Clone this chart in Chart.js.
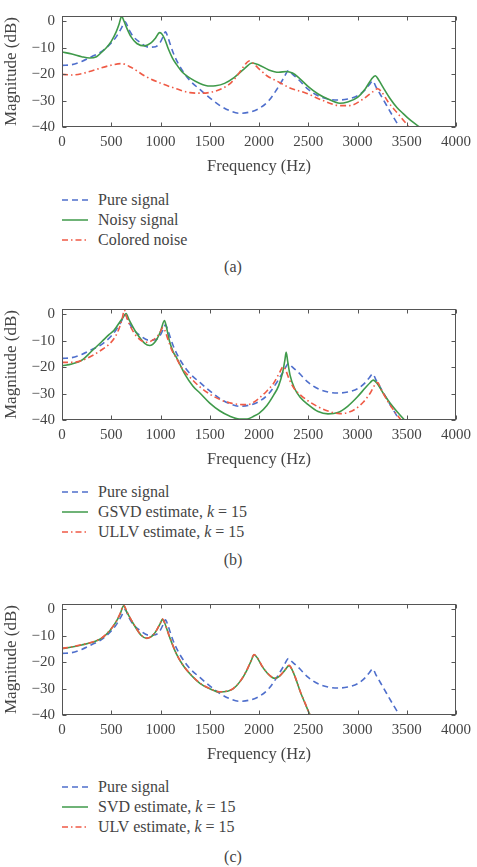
<!DOCTYPE html>
<html>
<head>
<meta charset="utf-8">
<script src="https://cdn.jsdelivr.net/npm/chart.js@4.4.0/dist/chart.umd.min.js"></script>
<style>
  body { margin: 0; background: #fff; width: 477px; height: 867px; position: relative; overflow: hidden;
         font-family: "Liberation Serif", serif; color: #444; }
  .panel { position: absolute; left: 0; }
  .legend { position: absolute; left: 62px; font-size: 16px; }
  .legend div { display: flex; align-items: center; height: 20px; white-space: nowrap; }
  .legend svg { margin-right: 10px; }
  .cap { position: absolute; left: 0; width: 466px; text-align: center; font-size: 16px; line-height: 18px; }
</style>
</head>
<body>
<div class="panel" style="top:0"><canvas id="chartA" width="477" height="177"></canvas></div>
<div class="legend" id="legendA" style="top:190px"></div>
<div class="cap" style="top:258px">(a)</div>

<div class="panel" style="top:293px"><canvas id="chartB" width="477" height="177"></canvas></div>
<div class="legend" id="legendB" style="top:482px"></div>
<div class="cap" style="top:551px">(b)</div>

<div class="panel" style="top:588px"><canvas id="chartC" width="477" height="177"></canvas></div>
<div class="legend" id="legendC" style="top:777px"></div>
<div class="cap" style="top:848px">(c)</div>

<script>
// tick labels
const xTicks = [0, 500, 1000, 1500, 2000, 2500, 3000, 3500, 4000];
const yTicks = [-40, -30, -20, -10, 0];

// pure signal (same curve in all three panels)
const pureFreq = [0, 100, 200, 300, 400, 500, 550, 600, 640, 680, 720, 800, 880, 950, 1000, 1030, 1050, 1075, 1100, 1130,
  1180, 1250, 1300, 1400, 1500, 1600, 1700, 1800, 1900, 2000, 2100, 2180, 2250, 2300, 2340, 2400, 2500, 2600, 2700, 2800,
  2900, 3000, 3080, 3120, 3155, 3190, 3260, 3360, 3430, 3480];
const pureMag = [-16.7, -16.4, -15.2, -13.4, -11.5, -8.2, -5.9, -2.8, -0.2, -3.2, -5.6, -8.2, -9.8, -9.6, -7.8, -5.5, -4.0, -6.0, -8.8, -12.0,
  -16.0, -20.2, -22.5, -25.8, -29.0, -31.8, -33.8, -34.8, -34.4, -33.0, -30.0, -25.8, -21.5, -18.6, -20.0, -22.0, -25.8, -28.2, -29.4, -29.8,
  -29.4, -28.2, -25.8, -24.0, -22.6, -25.0, -29.5, -36.0, -40.2, -43.0];

// (a) noisy signal
const noisyFreq = [0, 100, 200, 280, 350, 400, 450, 500, 550, 580, 605, 630, 660, 700, 760, 840, 900, 950, 990, 1010,
  1040, 1080, 1120, 1160, 1220, 1300, 1400, 1500, 1560, 1650, 1750, 1850, 1930, 2000, 2100, 2200, 2280, 2340, 2400, 2500,
  2600, 2700, 2820, 2900, 3000, 3080, 3140, 3180, 3220, 3260, 3330, 3400, 3460, 3540, 3630, 3700];
const noisyMag = [-11.6, -12.4, -13.4, -13.9, -13.4, -11.8, -10.0, -7.6, -4.0, -1.0, 1.9, 0.0, -2.8, -5.8, -8.4, -9.3, -8.3, -6.3, -4.3, -4.6,
  -6.5, -10.5, -13.8, -16.2, -19.2, -21.5, -23.5, -24.5, -24.4, -23.5, -21.2, -18.0, -15.8, -16.5, -18.4, -19.3, -19.0, -19.6, -21.2, -24.7,
  -27.5, -29.4, -31.0, -30.5, -28.8, -25.5, -22.0, -20.6, -22.5, -25.0, -29.2, -32.6, -34.8, -37.5, -40.0, -42.0];

// (a) colored noise
const colFreq = [0, 100, 200, 300, 400, 500, 600, 700, 850, 1000, 1150, 1300, 1420, 1550, 1620, 1700, 1780, 1850, 1900, 1950,
  2000, 2080, 2180, 2320, 2480, 2650, 2820, 2920, 3050, 3150, 3205, 3240, 3320, 3400, 3500, 3540];
const colMag = [-20.1, -20.3, -19.8, -18.8, -17.6, -16.6, -16.0, -17.4, -20.9, -23.4, -25.4, -27.0, -27.2, -26.5, -25.5, -23.8, -20.5, -16.8, -15.0, -16.2,
  -18.0, -20.6, -22.6, -25.3, -27.2, -30.0, -31.9, -31.9, -29.6, -26.8, -25.5, -26.5, -31.0, -34.5, -39.0, -41.0];

// (b) GSVD estimate
const gsvdFreq = [0, 100, 200, 300, 400, 480, 530, 585, 620, 650, 680, 755, 840, 890, 950, 1000, 1040, 1060, 1090, 1130,
  1160, 1250, 1330, 1400, 1500, 1600, 1700, 1800, 1880, 1950, 2000, 2080, 2150, 2200, 2240, 2262, 2276, 2290, 2315, 2360,
  2420, 2500, 2600, 2700, 2800, 2900, 3000, 3080, 3130, 3160, 3200, 3260, 3330, 3400, 3478, 3520];
const gsvdMag = [-19.5, -18.8, -17.4, -14.0, -10.5, -7.6, -6.0, -3.0, -1.2, 0.3, -2.0, -7.0, -11.0, -11.8, -10.2, -6.5, -2.4, -4.8, -10.0, -14.3,
  -16.2, -22.8, -27.2, -29.8, -33.6, -36.5, -38.5, -39.6, -39.6, -38.5, -37.5, -34.5, -30.5, -27.0, -22.0, -17.5, -14.4, -17.5, -23.0, -28.0,
  -31.5, -34.2, -36.8, -37.7, -37.2, -34.8, -31.2, -27.8, -25.8, -24.9, -26.2, -29.8, -33.6, -36.8, -40.0, -41.5];

// (b) ULLV estimate
const ullvFreq = [0, 100, 200, 300, 400, 480, 540, 590, 615, 632, 660, 700, 760, 855, 920, 970, 1000, 1024, 1045, 1080,
  1120, 1160, 1220, 1330, 1400, 1500, 1600, 1700, 1800, 1880, 1950, 2000, 2080, 2150, 2210, 2245, 2270, 2300, 2350, 2420,
  2500, 2600, 2700, 2820, 2900, 2980, 3060, 3130, 3180, 3205, 3240, 3300, 3390, 3450, 3500];
const ullvMag = [-18.2, -18.2, -17.5, -15.8, -13.5, -11.3, -8.5, -4.3, -1.0, 1.6, -1.5, -5.0, -8.5, -10.6, -9.8, -8.2, -6.5, -5.0, -6.2, -10.0,
  -14.0, -16.5, -20.5, -25.0, -27.5, -30.2, -32.2, -33.5, -34.1, -34.2, -33.2, -31.8, -29.0, -26.0, -22.0, -19.8, -21.0, -24.0, -27.7, -30.5,
  -32.8, -35.0, -36.6, -37.6, -37.2, -35.8, -33.2, -29.8, -26.5, -25.8, -28.5, -32.5, -37.5, -40.3, -42.0];

// (c) SVD estimate
const svdFreq = [0, 100, 200, 300, 400, 485, 550, 590, 626, 660, 720, 805, 862, 920, 960, 1000, 1018, 1040, 1091, 1160,
  1230, 1326, 1400, 1500, 1596, 1680, 1740, 1815, 1880, 1920, 1950, 1985, 2030, 2085, 2130, 2165, 2210, 2260, 2305, 2340,
  2380, 2420, 2470, 2520, 2560];
const svdMag = [-14.9, -14.3, -13.5, -12.6, -11.0, -8.1, -4.7, -1.8, 1.3, -1.2, -5.2, -9.9, -11.0, -10.0, -8.0, -5.2, -3.8, -5.0, -10.4, -16.8,
  -21.3, -25.5, -28.0, -30.1, -31.3, -31.0, -30.0, -27.0, -22.8, -19.5, -17.2, -18.5, -21.5, -24.2, -25.7, -26.1, -25.3, -23.2, -21.3, -23.2,
  -27.0, -31.3, -35.8, -40.2, -43.0];

// (c) ULV estimate
const ulvFreq = [0, 100, 200, 300, 400, 485, 550, 590, 626, 660, 720, 805, 862, 920, 960, 1000, 1018, 1040, 1091, 1160,
  1230, 1326, 1400, 1500, 1596, 1680, 1740, 1815, 1880, 1920, 1950, 1985, 2030, 2085, 2130, 2165, 2210, 2260, 2305, 2340,
  2380, 2420, 2470, 2520, 2560];
const ulvMag = [-14.8, -14.2, -13.4, -12.5, -10.9, -8.0, -4.6, -1.6, 1.6, -1.0, -5.1, -9.8, -10.9, -9.9, -7.9, -5.0, -3.6, -4.9, -10.3, -16.7,
  -21.2, -25.4, -27.9, -30.0, -31.2, -30.9, -29.9, -26.9, -22.7, -19.4, -17.1, -18.4, -21.4, -24.1, -25.6, -26.0, -25.2, -23.1, -21.2, -23.1,
  -26.9, -31.2, -35.7, -40.1, -43.0];

const styles = {
  dash:    { color: '#4f6fcc', dash: [6, 4] },
  solid:   { color: '#3f9a4a', dash: [] },
  dashdot: { color: '#ef5a45', dash: [6, 3, 1.5, 3] }
};

const panels = [
  { canvas: 'chartA', legend: 'legendA', series: [
    { label: 'Pure signal', freq: pureFreq, mag: pureMag, style: 'dash' },
    { label: 'Noisy signal', freq: noisyFreq, mag: noisyMag, style: 'solid' },
    { label: 'Colored noise', freq: colFreq, mag: colMag, style: 'dashdot' }
  ]},
  { canvas: 'chartB', legend: 'legendB', series: [
    { label: 'Pure signal', freq: pureFreq, mag: pureMag, style: 'dash' },
    { label: 'GSVD estimate, k = 15', freq: gsvdFreq, mag: gsvdMag, style: 'solid' },
    { label: 'ULLV estimate, k = 15', freq: ullvFreq, mag: ullvMag, style: 'dashdot' }
  ]},
  { canvas: 'chartC', legend: 'legendC', series: [
    { label: 'Pure signal', freq: pureFreq, mag: pureMag, style: 'dash' },
    { label: 'SVD estimate, k = 15', freq: svdFreq, mag: svdMag, style: 'solid' },
    { label: 'ULV estimate, k = 15', freq: ulvFreq, mag: ulvMag, style: 'dashdot' }
  ]}
];

const textColor = '#444';
Chart.defaults.font.family = "'Liberation Serif', serif";
Chart.defaults.color = textColor;

// matlab style box with inward tick marks
const boxPlugin = {
  id: 'box',
  afterDatasetsDraw(chart) {
    const { ctx, chartArea: a, scales: { x, y } } = chart;
    const l = Math.round(a.left) + 0.5, r = Math.round(a.right) - 0.5;
    const t = Math.round(a.top) + 0.5, b = Math.round(a.bottom) - 0.5;
    ctx.save();
    ctx.strokeStyle = '#555';
    ctx.lineWidth = 1;
    ctx.setLineDash([]);
    ctx.strokeRect(l, t, r - l, b - t);
    ctx.beginPath();
    x.ticks.forEach(tk => {
      const px = Math.round(x.getPixelForValue(tk.value)) + 0.5;
      ctx.moveTo(px, b); ctx.lineTo(px, b - 4);
      ctx.moveTo(px, t); ctx.lineTo(px, t + 4);
    });
    y.ticks.forEach(tk => {
      const py = Math.round(y.getPixelForValue(tk.value)) + 0.5;
      ctx.moveTo(l, py); ctx.lineTo(l + 4, py);
      ctx.moveTo(r, py); ctx.lineTo(r - 4, py);
    });
    ctx.stroke();
    ctx.restore();
  }
};

function makeChart(p) {
  const n = p.series.length;
  const datasets = p.series.map((s, i) => ({
    label: s.label,
    data: s.freq.map((f, j) => ({ x: f, y: s.mag[j] })),
    borderColor: styles[s.style].color,
    borderDash: styles[s.style].dash,
    borderWidth: 1.6,
    pointRadius: 0,
    fill: false,
    cubicInterpolationMode: 'monotone',
    clip: 0,
    order: n - i
  }));
  new Chart(document.getElementById(p.canvas), {
    type: 'line',
    data: { datasets },
    options: {
      responsive: false,
      animation: false,
      layout: { padding: { top: 6, right: 19, left: 0, bottom: 0 } },
      plugins: { legend: { display: false }, tooltip: { enabled: false } },
      scales: {
        x: {
          type: 'linear', min: 0, max: 4000,
          grid: { display: false, drawTicks: false }, border: { display: false },
          afterBuildTicks: s => { s.ticks = xTicks.map(v => ({ value: v })); },
          afterFit: s => { s.height = 50; },
          ticks: { font: { size: 15 }, padding: 6, maxRotation: 0, autoSkip: false, callback: v => String(v) },
          title: { display: true, text: 'Frequency (Hz)', font: { size: 16.5 }, padding: { top: 0, bottom: 0 } }
        },
        y: {
          min: -40, max: 2,
          grid: { display: false, drawTicks: false }, border: { display: false },
          afterBuildTicks: s => { s.ticks = yTicks.map(v => ({ value: v })); },
          afterFit: s => { s.width = 62; },
          ticks: { font: { size: 15 }, padding: 7, callback: v => String(v).replace('-', '\u2212') },
          title: { display: true, text: 'Magnitude (dB)', font: { size: 17 }, padding: { top: 1, bottom: 0 } }
        }
      }
    },
    plugins: [boxPlugin]
  });

  // legend below the plot, one entry per line
  const box = document.getElementById(p.legend);
  p.series.forEach(s => {
    const st = styles[s.style];
    const row = document.createElement('div');
    const text = s.label.replace(/k = /, '<i>k</i> = ');
    row.innerHTML = '<svg width="26" height="6"><line x1="0" y1="3" x2="26" y2="3" stroke="' + st.color +
      '" stroke-width="1.5" stroke-dasharray="' + (st.dash.length ? st.dash.join(' ') : 'none') + '"/></svg><span>' + text + '</span>';
    box.appendChild(row);
  });
}

panels.forEach(makeChart);
</script>
</body>
</html>
